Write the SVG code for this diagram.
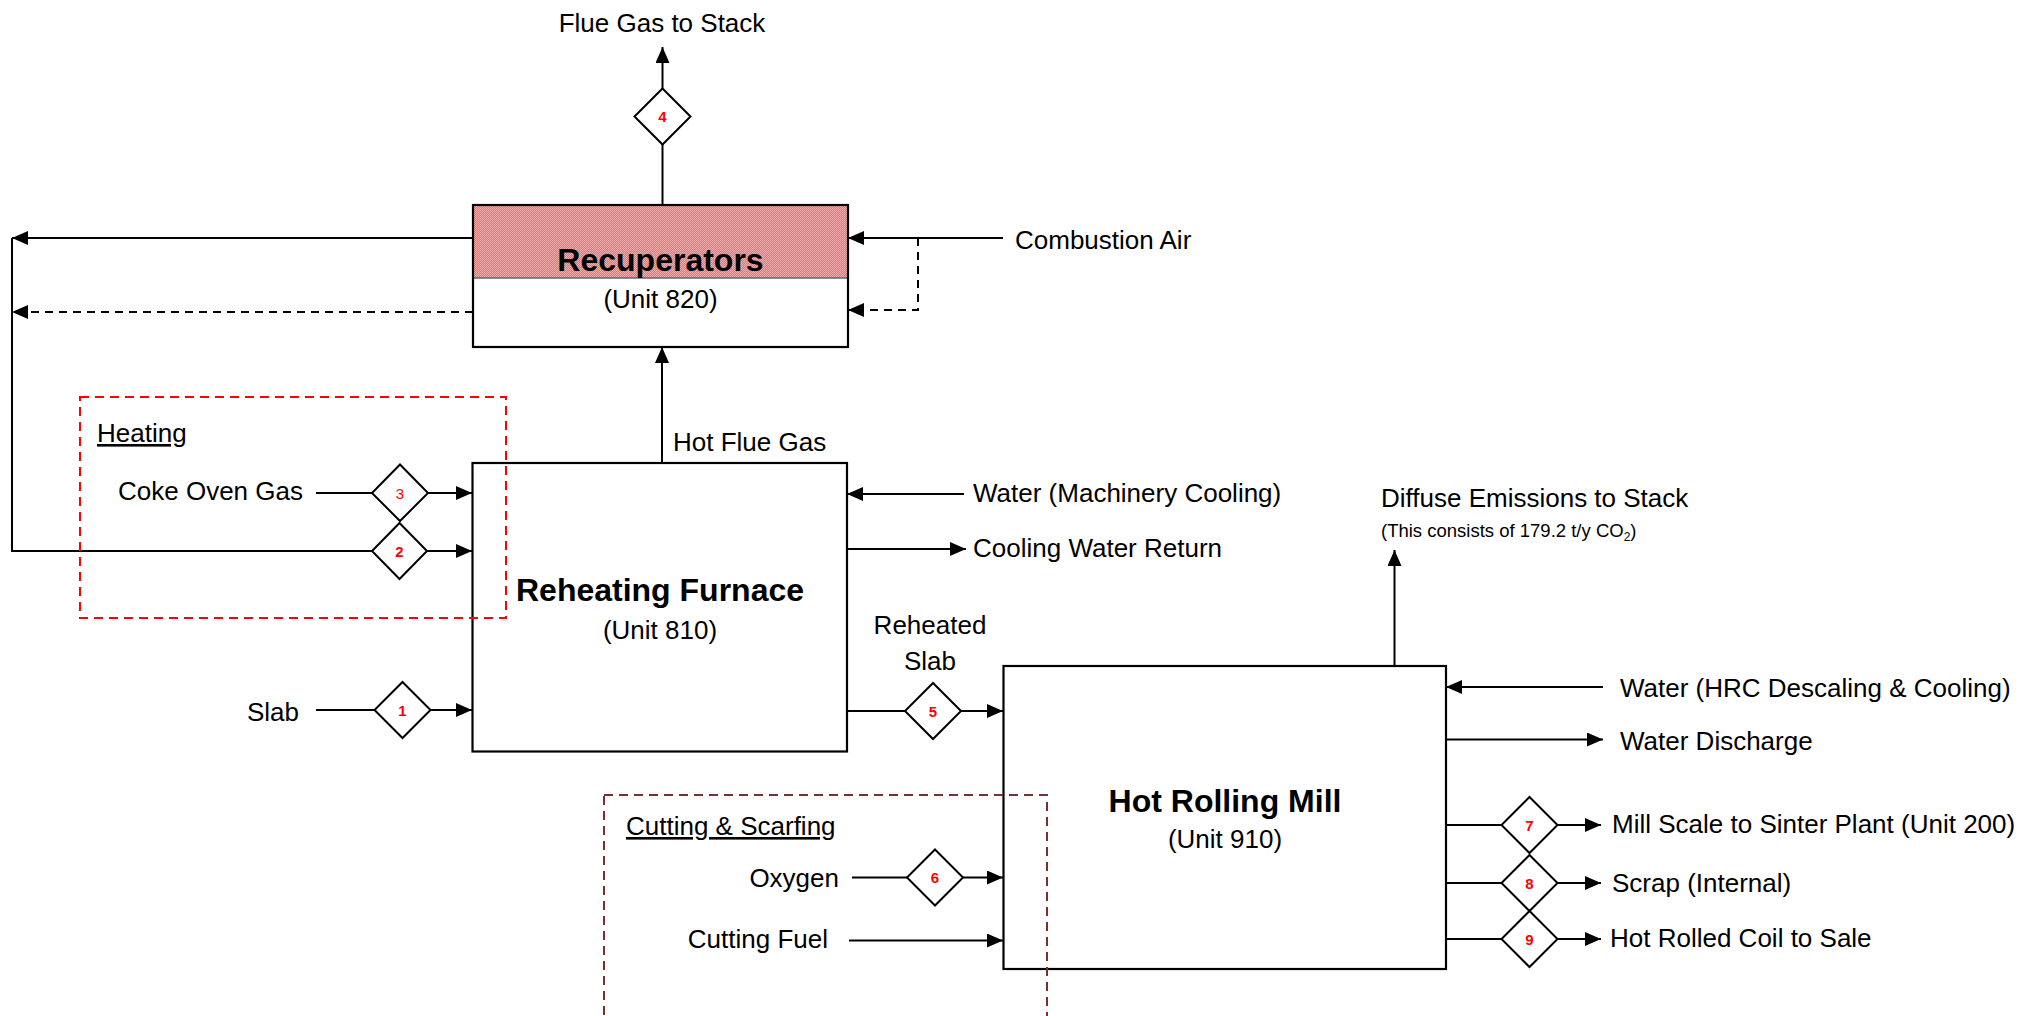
<svg xmlns="http://www.w3.org/2000/svg" width="2031" height="1016" viewBox="0 0 2031 1016">
<style>
text{font-family:"Liberation Sans",Arial,sans-serif;fill:#000}
.lbl{font-size:26px}
.title{font-size:32px;font-weight:bold}
.unit{font-size:26px}
.num{font-size:15px;font-weight:bold;fill:#FF0000;text-anchor:middle}
.box{fill:#fff;stroke:#000;stroke-width:2.2}
.dia{fill:#fff;stroke:#000;stroke-width:2}
.ln{fill:none;stroke:#000;stroke-width:2}
.dash{stroke-dasharray:8 6}
.arr{marker-end:url(#ah)}
.grp1{fill:none;stroke:#FF0000;stroke-width:2;stroke-dasharray:9 6}
.grp2{fill:none;stroke:#7A3030;stroke-width:2;stroke-dasharray:9 6}
</style>
<defs>
<marker id="ah" markerUnits="userSpaceOnUse" markerWidth="16" markerHeight="14" refX="16" refY="7" orient="auto">
<path d="M0,0 L16,7 L0,14 z" fill="#000"/>
</marker>
<pattern id="pink" width="2" height="2" patternUnits="userSpaceOnUse">
<rect width="2" height="2" fill="#F06E6E"/>
<rect width="1" height="1" fill="#F9AFAF"/>
<rect x="1" y="1" width="1" height="1" fill="#F9AFAF"/>
</pattern>
</defs>
<rect width="2031" height="1016" fill="#fff"/>

<g id="connectors">
<line class="ln arr" x1="662.5" y1="205" x2="662.5" y2="47"/>
<line class="ln arr" x1="1003" y1="238" x2="848" y2="238"/>
<polyline class="ln dash arr" points="918,238 918,310 848,310"/>
<line class="ln arr" x1="473" y1="238" x2="12" y2="238"/>
<line class="ln dash arr" x1="473" y1="312" x2="12" y2="312"/>
<polyline class="ln arr" points="12,238 12,551 472,551"/>
<line class="ln arr" x1="316" y1="493" x2="472" y2="493"/>
<line class="ln arr" x1="316" y1="710" x2="472" y2="710"/>
<line class="ln arr" x1="662" y1="463" x2="662" y2="347"/>
<line class="ln arr" x1="964" y1="494" x2="847" y2="494"/>
<line class="ln arr" x1="847" y1="549" x2="966" y2="549"/>
<line class="ln arr" x1="847" y1="711" x2="1003" y2="711"/>
<line class="ln arr" x1="852" y1="877.5" x2="1003" y2="877.5"/>
<line class="ln arr" x1="849" y1="940.5" x2="1003" y2="940.5"/>
<line class="ln arr" x1="1394.5" y1="666" x2="1394.5" y2="550"/>
<line class="ln arr" x1="1603" y1="687" x2="1446" y2="687"/>
<line class="ln arr" x1="1446" y1="739.5" x2="1603" y2="739.5"/>
<line class="ln arr" x1="1446" y1="825" x2="1601" y2="825"/>
<line class="ln arr" x1="1446" y1="883" x2="1601" y2="883"/>
<line class="ln arr" x1="1446" y1="939" x2="1601" y2="939"/>
</g>

<g id="recuperators">
<rect x="473" y="205" width="375" height="142" fill="#fff"/>
<rect x="473" y="205" width="375" height="73" fill="url(#pink)"/>
<line x1="473" y1="278" x2="848" y2="278" stroke="#666" stroke-width="1.5"/>
<rect class="box" x="473" y="205" width="375" height="142" style="fill:none"/>
<text class="title" x="660.5" y="271" text-anchor="middle">Recuperators</text>
<text class="unit" x="660.5" y="308" text-anchor="middle">(Unit 820)</text>
</g>

<g id="reheating-furnace">
<rect class="box" x="472.5" y="463" width="374.5" height="288.5"/>
<text class="title" x="660" y="601" text-anchor="middle">Reheating Furnace</text>
<text class="unit" x="660" y="639" text-anchor="middle">(Unit 810)</text>
</g>

<g id="hot-rolling-mill">
<rect class="box" x="1003.5" y="666" width="442.5" height="303"/>
<text class="title" x="1225" y="812" text-anchor="middle">Hot Rolling Mill</text>
<text class="unit" x="1225" y="848" text-anchor="middle">(Unit 910)</text>
</g>

<g id="d1"><polygon class="dia" points="402.5,682 430.5,710 402.5,738 374.5,710"/><text class="num" x="402.5" y="715.5">1</text></g>
<g id="d2"><polygon class="dia" points="399.5,523 427,551 399.5,579 372,551"/><text class="num" x="399.5" y="556.5">2</text></g>
<g id="d3"><polygon class="dia" points="400,464.5 428,493 400,521 372,493"/><text class="num" x="400" y="498.5" style="font-weight:normal">3</text></g>
<g id="d4"><polygon class="dia" points="662.5,88.5 690.5,116.5 662.5,144.5 634.5,116.5"/><text class="num" x="662.5" y="122">4</text></g>
<g id="d5"><polygon class="dia" points="933,683 961,711 933,739 905,711"/><text class="num" x="933" y="716.5">5</text></g>
<g id="d6"><polygon class="dia" points="935,849.5 963,877.5 935,905.5 907,877.5"/><text class="num" x="935" y="883">6</text></g>
<g id="d7"><polygon class="dia" points="1529.5,797 1557.5,825 1529.5,853 1501.5,825"/><text class="num" x="1529.5" y="830.5">7</text></g>
<g id="d8"><polygon class="dia" points="1529.5,855 1557.5,883 1529.5,911 1501.5,883"/><text class="num" x="1529.5" y="888.5">8</text></g>
<g id="d9"><polygon class="dia" points="1529.5,911 1557.5,939 1529.5,967 1501.5,939"/><text class="num" x="1529.5" y="944.5">9</text></g>

<g id="groups">
<rect class="grp1" x="80" y="397" width="426" height="221"/>
<rect class="grp2" x="604" y="795" width="443" height="222"/>
</g>

<g id="labels">
<text class="lbl" x="662" y="32" text-anchor="middle">Flue Gas to Stack</text>
<text class="lbl" x="1015" y="249">Combustion Air</text>
<text class="lbl" x="97" y="442" text-decoration="underline">Heating</text>
<text class="lbl" x="303" y="500" text-anchor="end">Coke Oven Gas</text>
<text class="lbl" x="673" y="451">Hot Flue Gas</text>
<text class="lbl" x="973" y="502">Water (Machinery Cooling)</text>
<text class="lbl" x="973" y="557">Cooling Water Return</text>
<text class="lbl" x="1381" y="507">Diffuse Emissions to Stack</text>
<text x="1381" y="537" style="font-size:18.5px">(This consists of 179.2 t/y CO<tspan style="font-size:12px" dy="4">2</tspan><tspan dy="-4">)</tspan></text>
<text class="lbl" x="930" y="634" text-anchor="middle">Reheated</text>
<text class="lbl" x="930" y="670" text-anchor="middle">Slab</text>
<text class="lbl" x="299" y="721" text-anchor="end">Slab</text>
<text class="lbl" x="1620" y="697">Water (HRC Descaling &amp; Cooling)</text>
<text class="lbl" x="1620" y="750">Water Discharge</text>
<text class="lbl" x="1612" y="833">Mill Scale to Sinter Plant (Unit 200)</text>
<text class="lbl" x="1612" y="892">Scrap (Internal)</text>
<text class="lbl" x="1610" y="947">Hot Rolled Coil to Sale</text>
<text class="lbl" x="626" y="835" text-decoration="underline">Cutting &amp; Scarfing</text>
<text class="lbl" x="839" y="887" text-anchor="end">Oxygen</text>
<text class="lbl" x="828" y="948" text-anchor="end">Cutting Fuel</text>
</g>
</svg>
